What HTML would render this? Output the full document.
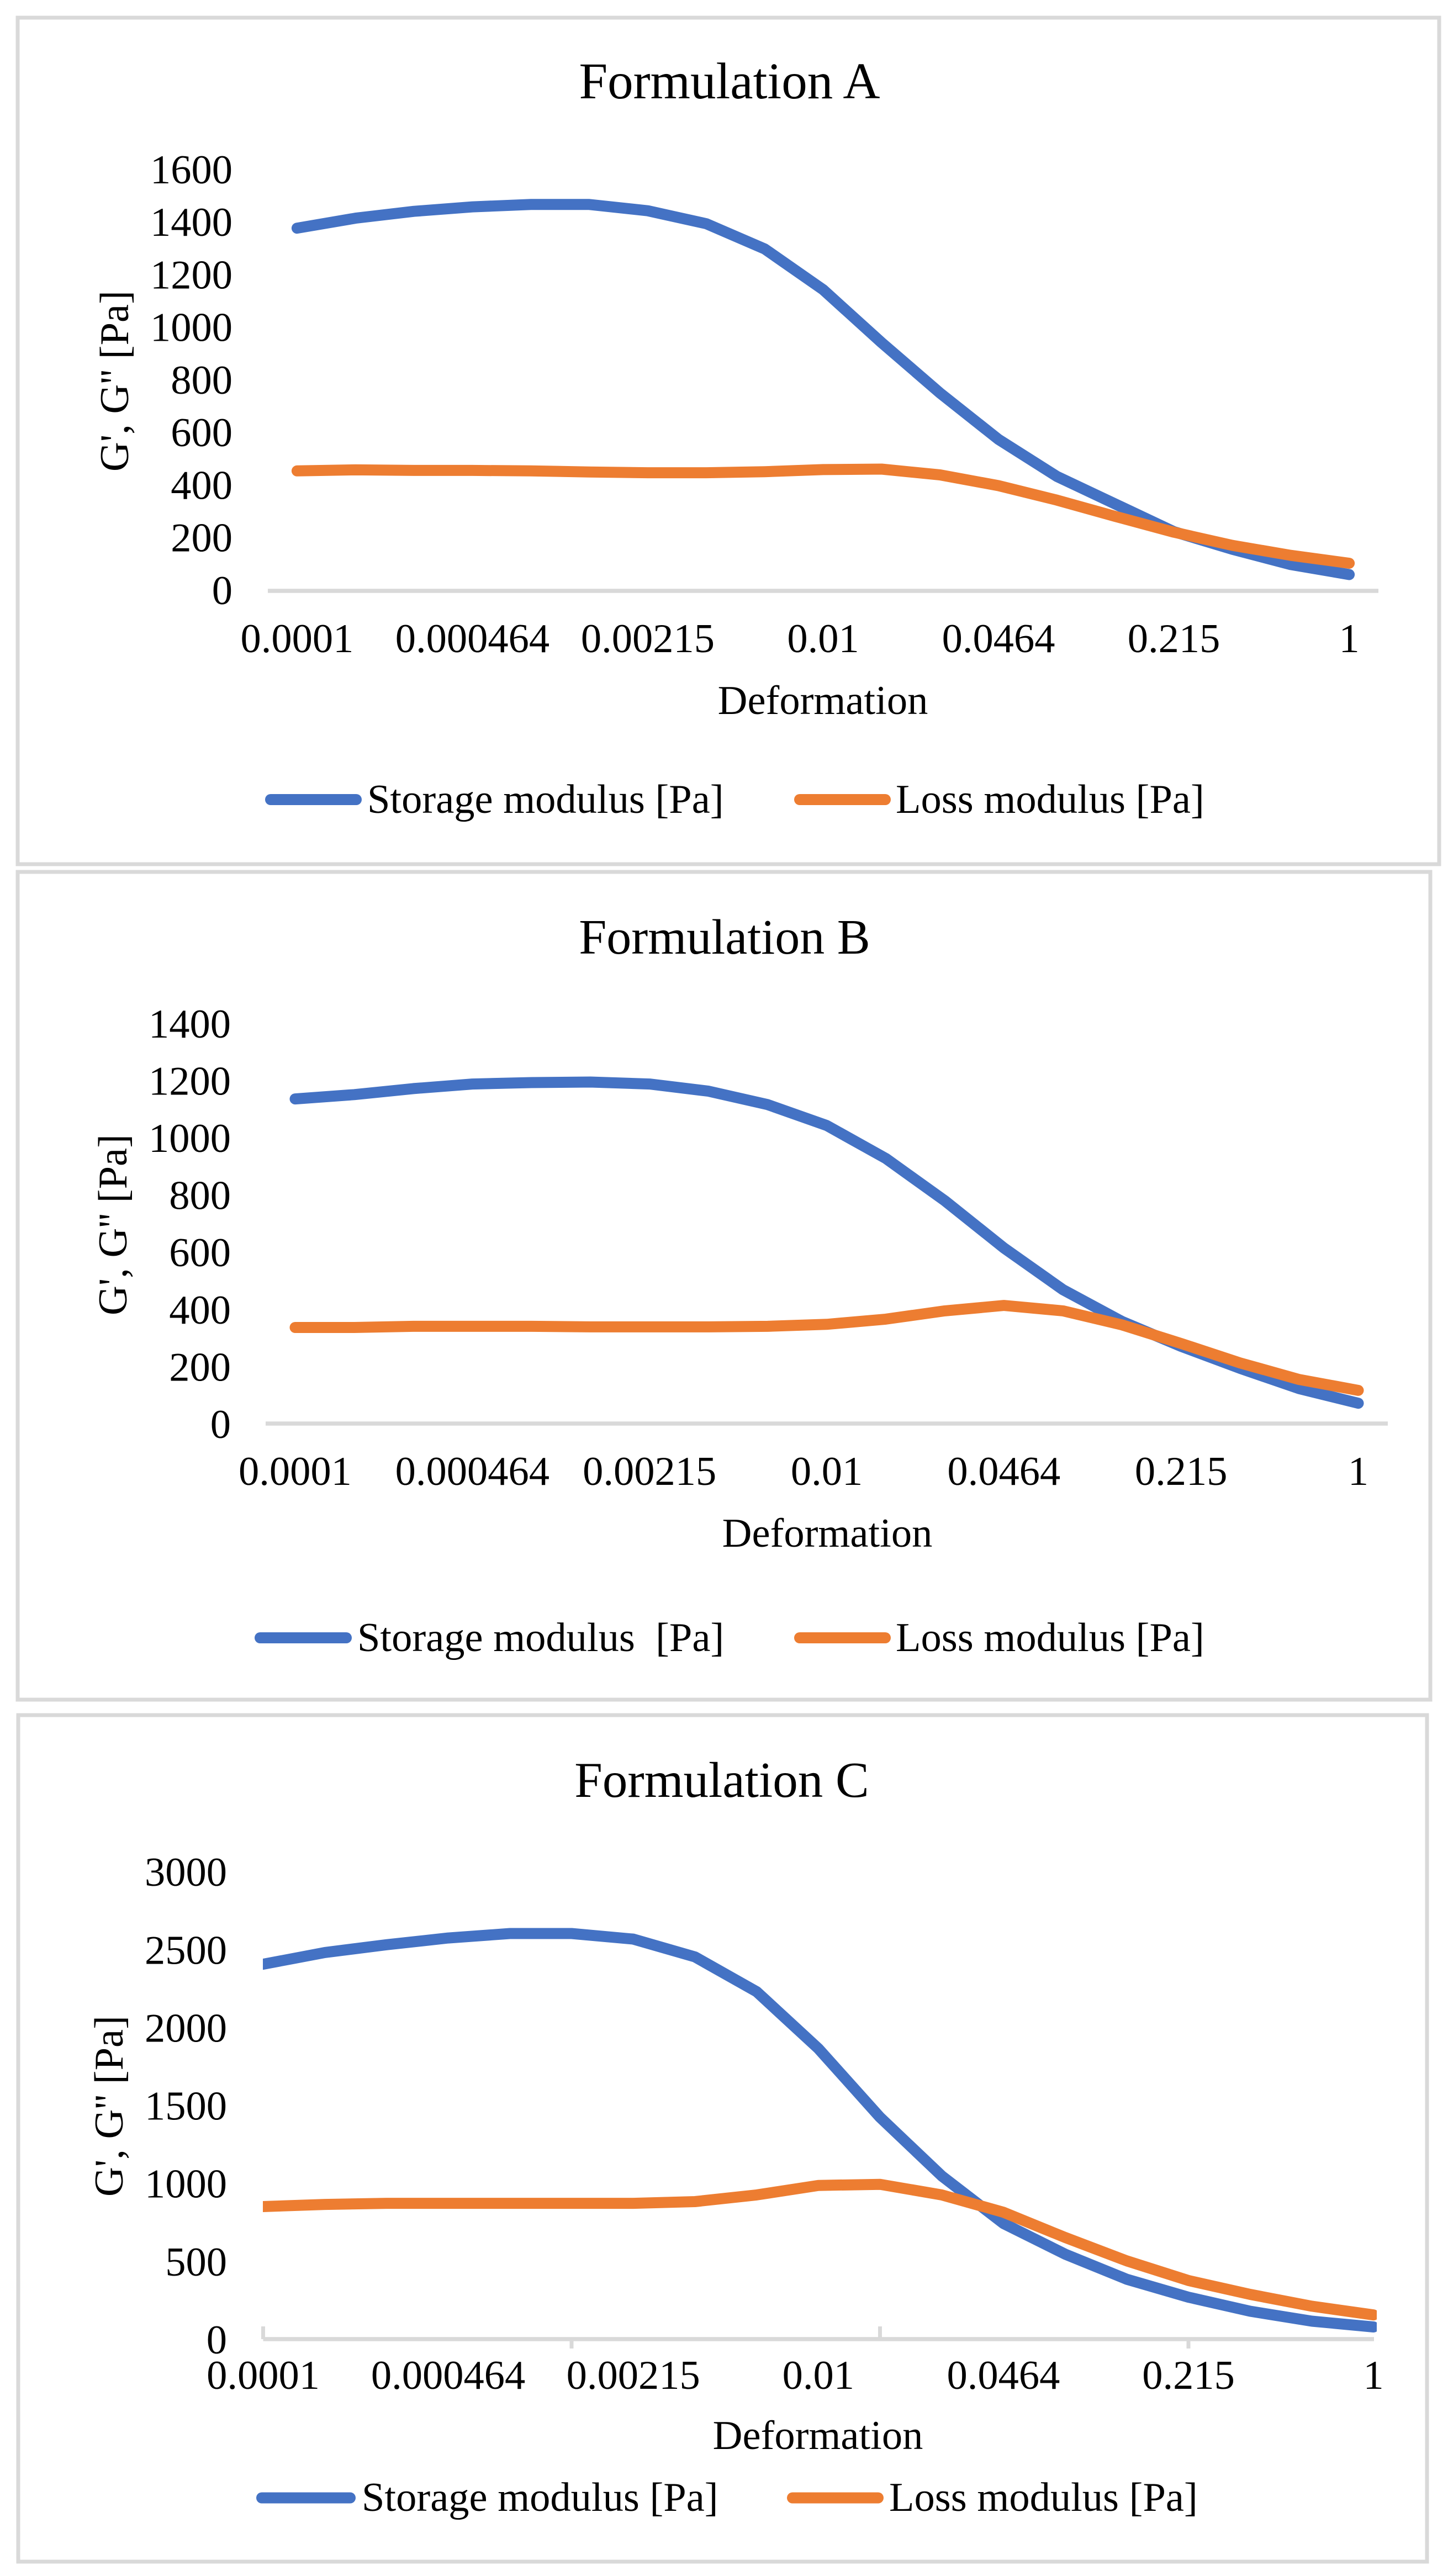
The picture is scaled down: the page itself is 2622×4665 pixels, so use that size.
<!DOCTYPE html>
<html lang="en">
<head>
<meta charset="utf-8">
<title>Formulations A, B and C: storage and loss modulus vs deformation</title>
<style>
html,body{margin:0;padding:0;background:#fff;width:2622px;height:4665px;overflow:hidden}
svg{display:block}
text{font-family:"Liberation Serif",serif;fill:#000;font-size:74.5px}
.title{font-size:91px;text-anchor:middle}
.mid{text-anchor:middle}
.frame{fill:#fff;stroke:#d9d9d9;stroke-width:7}
.leg{stroke-width:20;stroke-linecap:round;fill:none}
</style>
</head>
<body>
<svg id="root" xmlns="http://www.w3.org/2000/svg" width="2622" height="4665" viewBox="0 0 2622 4665">
<defs><clipPath id="clipC"><rect x="476" y="3300" width="2017" height="1000"/></clipPath></defs>

<g id="chartA">
<rect class="frame" x="32" y="32" width="2574" height="1533"/>
<text class="title" style="font-size:93px" x="1321" y="178">Formulation A</text>
<text class="mid" transform="translate(232 690) rotate(-90)">G', G'' [Pa]</text>
<text class="mid" x="1490" y="1293">Deformation</text>
<line class="leg" x1="490" x2="645" y1="1448" y2="1448" stroke="#4472C4"/>
<text x="665" y="1472">Storage modulus [Pa]</text>
<line class="leg" x1="1448" x2="1603" y1="1448" y2="1448" stroke="#ED7D31"/>
<text x="1622" y="1472">Loss modulus [Pa]</text>
</g>

<g id="chartB">
<rect class="frame" x="32" y="1579" width="2558" height="1499"/>
<text class="title" style="font-size:90px" x="1312" y="1727">Formulation B</text>
<text class="mid" transform="translate(229 2218) rotate(-90)">G', G'' [Pa]</text>
<text class="mid" x="1498" y="2801">Deformation</text>
<line class="leg" x1="471" x2="627" y1="2966" y2="2966" stroke="#4472C4"/>
<text x="647" y="2990">Storage modulus&#160; [Pa]</text>
<line class="leg" x1="1448" x2="1603" y1="2966" y2="2966" stroke="#ED7D31"/>
<text x="1622" y="2990">Loss modulus [Pa]</text>
</g>

<g id="chartC">
<rect class="frame" x="33" y="3106" width="2551" height="1533"/>
<text class="title" x="1307" y="3254">Formulation C</text>
<text class="mid" transform="translate(222 3814) rotate(-90)">G', G'' [Pa]</text>
<text class="mid" x="1481" y="4435">Deformation</text>
<line class="leg" x1="474" x2="634" y1="4523.5" y2="4523.5" stroke="#4472C4"/>
<text x="655" y="4547">Storage modulus [Pa]</text>
<line class="leg" x1="1435" x2="1590" y1="4523.5" y2="4523.5" stroke="#ED7D31"/>
<text x="1610" y="4547">Loss modulus [Pa]</text>
</g>
</svg>

<script>
// Shared category labels
const xTickLabels = ["0.0001", "0.000464", "0.00215", "0.01", "0.0464", "0.215", "1"];

// Formulation A
const yTicksA = [0, 200, 400, 600, 800, 1000, 1200, 1400, 1600];
const storageA = [1379, 1417, 1443, 1460, 1469, 1469, 1445, 1396, 1300, 1145, 944, 752, 576, 435, 330, 225, 158, 100, 62];
const lossA = [456, 460, 458, 458, 456, 452, 449, 449, 453, 461, 463, 441, 400, 345, 283, 223, 173, 135, 105];

// Formulation B
const yTicksB = [0, 200, 400, 600, 800, 1000, 1200, 1400];
const storageB = [1135, 1150, 1171, 1187, 1192, 1194, 1187, 1162, 1115, 1042, 927, 779, 614, 468, 357, 270, 193, 122, 71];
const lossB = [336, 336, 340, 340, 340, 338, 338, 338, 340, 347, 365, 394, 413, 394, 345, 280, 212, 154, 116];

// Formulation C
const yTicksC = [0, 500, 1000, 1500, 2000, 2500, 3000];
const storageC = [2405, 2480, 2530, 2573, 2602, 2602, 2566, 2452, 2229, 1864, 1423, 1047, 742, 545, 384, 269, 179, 115, 78];
const lossC = [850, 864, 871, 871, 871, 871, 871, 882, 925, 986, 993, 925, 814, 652, 502, 376, 287, 211, 155];

const SVG_NS = "http://www.w3.org/2000/svg";

function make(parent, tag, attrs) {
  const node = document.createElementNS(SVG_NS, tag);
  for (const k in attrs) node.setAttribute(k, attrs[k]);
  parent.appendChild(node);
  return node;
}

function drawAxes(group, key, opts, yScale, xScale, yTicks) {
  const axis = make(group, "line", {
    x1: opts.axisLeft, x2: opts.axisRight, y1: yScale(0), y2: yScale(0),
    stroke: "#d9d9d9", "stroke-width": 7.5
  });
  
  

  yTicks.forEach(function (v) {
    const t = make(group, "text", { x: opts.yLabelRight, y: yScale(v) + opts.yLabelShift, "text-anchor": "end" });
    t.textContent = String(v);
    
    
  });

  xTickLabels.forEach(function (label, i) {
    const t = make(group, "text", { x: xScale(i * 3), y: opts.xLabelBaseline, "text-anchor": "middle" });
    t.textContent = label;
    
    
  });
}

function drawSeries(group, name, values, color, xScale, yScale, clip) {
  const pts = values.map(function (v, i) { return xScale(i).toFixed(1) + "," + yScale(v).toFixed(1); }).join(" ");
  const attrs = { points: pts, fill: "none", stroke: color, "stroke-width": 20, "stroke-linejoin": "round", "stroke-linecap": "round" };
  if (clip) attrs["clip-path"] = "url(#" + clip + ")";
  const line = make(group, "polyline", attrs);
  
  
}

// Chart A
(function () {
  const group = document.getElementById("chartA");
  const xScale = function (i) { return 485 + (i + 0.5) * (2496 - 485) / 19; };
  const yScale = function (v) { return 1070 - v * 0.4763; };
  drawAxes(group, "chart-a", { axisLeft: 485, axisRight: 2496, yLabelRight: 421, yLabelShift: 24, xLabelBaseline: 1181 }, yScale, xScale, yTicksA);
  drawSeries(group, "chart-a-storage-modulus-line", storageA, "#4472C4", xScale, yScale);
  drawSeries(group, "chart-a-loss-modulus-line", lossA, "#ED7D31", xScale, yScale);
})();

// Chart B
(function () {
  const group = document.getElementById("chartB");
  const xScale = function (i) { return 481 + (i + 0.5) * (2513 - 481) / 19; };
  const yScale = function (v) { return 2578 - v * 0.518; };
  drawAxes(group, "chart-b", { axisLeft: 481, axisRight: 2513, yLabelRight: 418, yLabelShift: 26, xLabelBaseline: 2689 }, yScale, xScale, yTicksB);
  drawSeries(group, "chart-b-storage-modulus-line", storageB, "#4472C4", xScale, yScale);
  drawSeries(group, "chart-b-loss-modulus-line", lossB, "#ED7D31", xScale, yScale);
})();

// Chart C
(function () {
  const group = document.getElementById("chartC");
  const xScale = function (i) { return 476.5 + i * 111.7; };
  const yScale = function (v) { return 4236 - v * 0.2823; };
  drawAxes(group, "chart-c", { axisLeft: 476.5, axisRight: 2488, yLabelRight: 411, yLabelShift: 26, xLabelBaseline: 4326 }, yScale, xScale, yTicksC);
  [0, 10].forEach(function (i) {
    const tick = make(group, "line", { x1: xScale(i), x2: xScale(i), y1: 4213, y2: 4236, stroke: "#d9d9d9", "stroke-width": 7 });
    
    
  });
  [5, 15].forEach(function (i) {
    const tick = make(group, "line", { x1: xScale(i), x2: xScale(i), y1: 4236, y2: 4253, stroke: "#d9d9d9", "stroke-width": 7 });
    
    
  });
  drawSeries(group, "chart-c-storage-modulus-line", storageC, "#4472C4", xScale, yScale, "clipC");
  drawSeries(group, "chart-c-loss-modulus-line", lossC, "#ED7D31", xScale, yScale, "clipC");
})();
</script>
</body>
</html>
